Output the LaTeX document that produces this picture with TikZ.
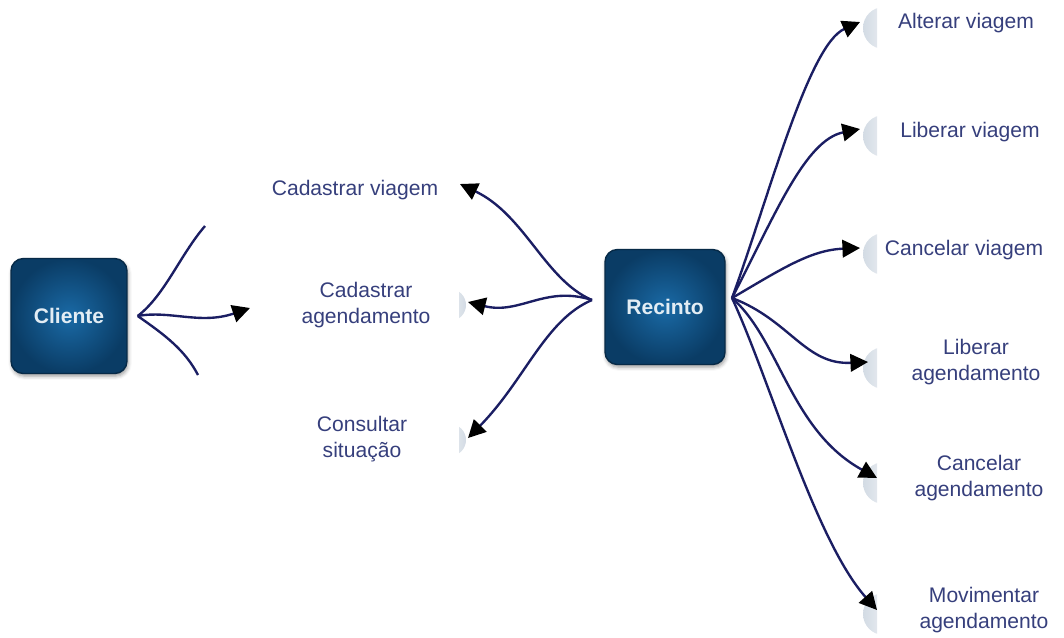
\documentclass[tikz,border=0pt]{standalone}
\usepackage{fontspec}
\setmainfont{Liberation Sans}
\usetikzlibrary{arrows.meta, positioning, shadows.blur}
\definecolor{boxblue}{HTML}{1A6AA6}
\definecolor{boxdark}{HTML}{0A3C65}
\definecolor{lineblue}{HTML}{1B1E63}
\definecolor{lblblue}{HTML}{363F7C}
\definecolor{bubble}{HTML}{D3DBE4}

\begin{document}
\begin{tikzpicture}[
  x=0.02cm, y=-0.02cm,
  actor/.style={
    rectangle,
    rounded corners=7pt,
    inner color=boxblue,
    outer color=boxdark,
    draw=boxdark!70!black,
    line width=0.8pt,
    text=white!88!boxblue,
    font=\fontsize{12}{14}\selectfont\bfseries,
    blur shadow={shadow xshift=0.6pt, shadow yshift=-1.5pt, shadow blur steps=4}
  },
  lbl/.style={
    align=center,
    inner sep=0pt,
    text=lblblue,
    font=\fontsize{12}{14.7}\selectfont
  },
  flow/.style={
    draw=lineblue,
    line width=1.35pt,
    -{Triangle[length=10pt, width=10pt, color=black]}
  },
  loose/.style={draw=lineblue, line width=1.35pt}
]
  \useasboundingbox (0,0) rectangle (1064,637);

  % faint bubble remnants behind the arrow tips
  \begin{scope}
    \clip (859,0) rectangle (877,637);
    \foreach \yy in {28,136,254,368,483,614}
      \shade[left color=bubble, right color=white] (884,\yy) circle (21);
  \end{scope}
  \begin{scope}
    \clip (459,0) rectangle (467,637);
    \foreach \yy in {305,440}
      \shade[left color=white, right color=bubble] (450,\yy) circle (16);
  \end{scope}

  % actors
  \node[actor, minimum width=2.32cm, minimum height=2.3cm] (cliente) at (69,316) {Cliente};
  \node[actor, minimum width=2.4cm, minimum height=2.3cm] (recinto) at (665,307) {Recinto};

  % use cases of Cliente (cut off)
  \node[lbl] (cadviagem) at (355,190) {Cadastrar viagem};
  \node[lbl] (cadagend) at (366,305) {Cadastrar\\agendamento};
  \node[lbl] (consulta) at (362,439) {Consultar\\situação};

  % use cases of Recinto
  \node[lbl] (alterar) at (966,23) {Alterar viagem};
  \node[lbl] (libviagem) at (970,132) {Liberar viagem};
  \node[lbl] (canviagem) at (964,250) {Cancelar viagem};
  \node[lbl] (libagend) at (976,362) {Liberar\\agendamento};
  \node[lbl] (canagend) at (979,478) {Cancelar\\agendamento};
  \node[lbl] (movagend) at (984,610) {Movimentar\\agendamento};

  % hubs and arrow ends
  \coordinate (cl-hub) at ([xshift=0.2cm]cliente.east);
  \coordinate (cl-up) at (205,226);
  \coordinate (cl-mid) at (250,308);
  \coordinate (cl-down) at (198,375);
  \coordinate (rc-in) at (592,300);
  \coordinate (rc-out) at (732,298);
  \coordinate (t-cadviagem) at (460,184);
  \coordinate (t-cadagend) at (468,302);
  \coordinate (t-consulta) at (468,438);
  \coordinate (t-alterar) at (860,22);
  \coordinate (t-libviagem) at (860,129);
  \coordinate (t-canviagem) at (860,248);
  \coordinate (t-libagend) at (868,362);
  \coordinate (t-canagend) at (877,478);
  \coordinate (t-movagend) at (877,610);

  % Cliente connectors
  \draw[loose] (cl-hub) .. controls (165,295) and (180,255) .. (cl-up);
  \draw[flow] (cl-hub) .. controls (170,310) and (200,325) .. (cl-mid);
  \draw[loose] (cl-hub) .. controls (165,335) and (185,350) .. (cl-down);

  % Recinto, left side
  \draw[flow] (rc-in) .. controls (545,280) and (525,215) .. (t-cadviagem);
  \draw[flow] (rc-in) .. controls (545,285) and (520,315) .. (t-cadagend);
  \draw[flow] (rc-in) .. controls (545,320) and (525,380) .. (t-consulta);

  % Recinto, right side
  \draw[flow] (rc-out) .. controls (768,200) and (808,45) .. (t-alterar);
  \draw[flow] (rc-out) .. controls (775,215) and (805,140) .. (t-libviagem);
  \draw[flow] (rc-out) .. controls (780,270) and (810,250) .. (t-canviagem);
  \draw[flow] (rc-out) .. controls (790,320) and (805,365) .. (t-libagend);
  \draw[flow] (rc-out) .. controls (780,340) and (790,430) .. (t-canagend);
  \draw[flow] (rc-out) .. controls (770,380) and (815,540) .. (t-movagend);
\end{tikzpicture}
\end{document}
